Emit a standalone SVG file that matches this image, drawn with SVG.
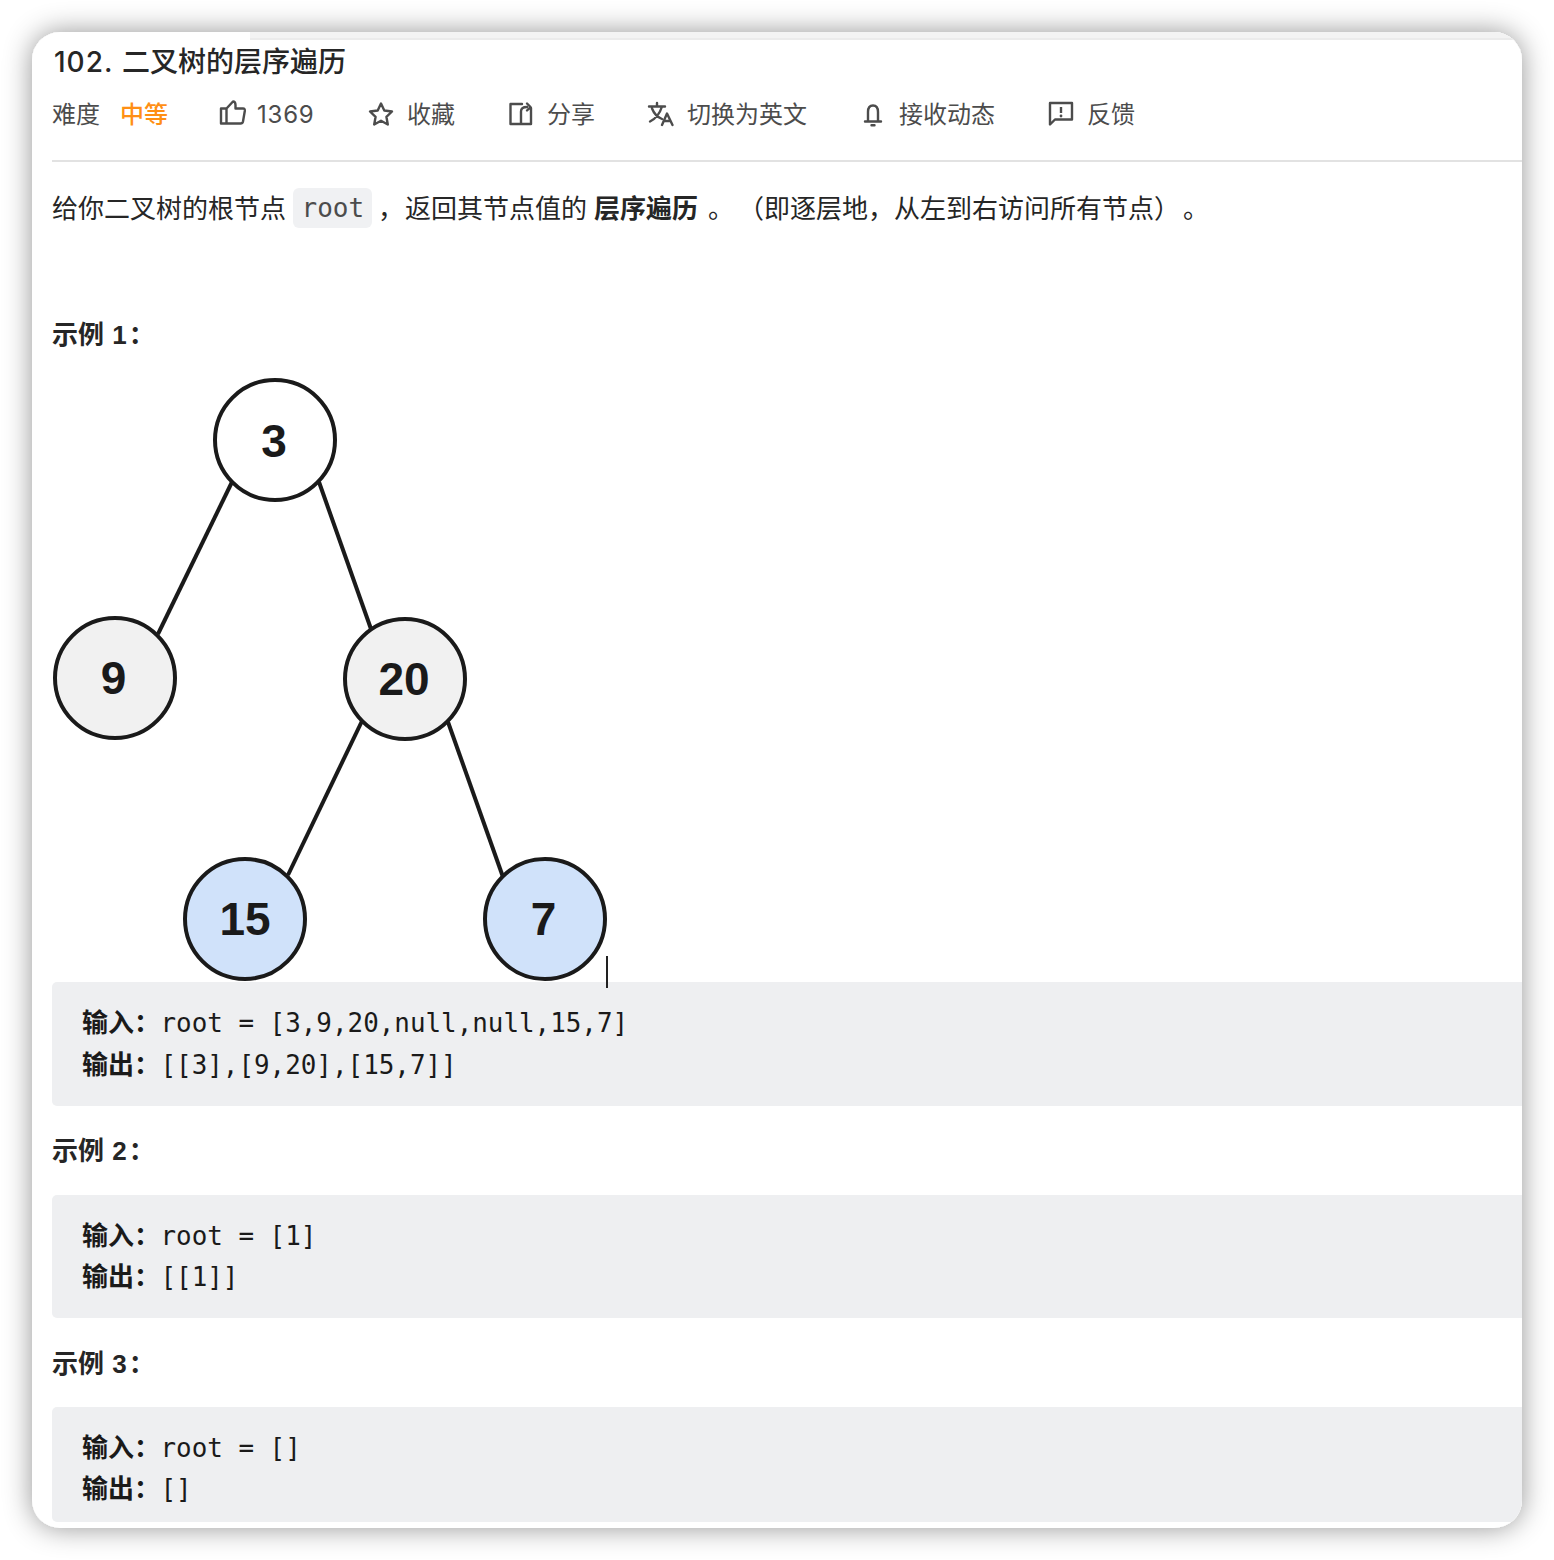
<svg xmlns="http://www.w3.org/2000/svg" width="1554" height="1560" viewBox="0 0 1554 1560">
<style>
text{font-family:"Noto Sans CJK SC","Noto Sans",sans-serif}
.t{font-size:24px;fill:#4c4c4c}
.b{font-size:26px;fill:#262626}
.h{font-size:26px;font-weight:700;fill:#262626;font-family:"Liberation Sans","Noto Sans CJK SC",sans-serif}
.m{font-size:25.900px;fill:#1a1a1a;font-family:"DejaVu Sans Mono",monospace}
.c{font-size:26px;font-weight:700;fill:#1a1a1a}
.ic{fill:none;stroke:#4c4c4c;stroke-width:2.400;stroke-linejoin:round;stroke-linecap:round}
.blk{fill:#eeeff1}
.n{stroke:#1a1a1a;stroke-width:4}
.nt{font-family:"Liberation Sans",sans-serif;font-size:46px;font-weight:700;fill:#1a1a1a;text-anchor:middle}
.e{stroke:#1a1a1a;stroke-width:4;fill:none}
</style>
<defs>
<filter id="sh" x="-10%" y="-10%" width="120%" height="120%"><feDropShadow dx="0" dy="0" stdDeviation="14" flood-color="#000" flood-opacity="0.42"/></filter>
<clipPath id="card"><rect x="32" y="32" width="1490" height="1496" rx="28"/></clipPath>
</defs>
<rect width="1554" height="1560" fill="#fff"/>
<rect x="32" y="32" width="1490" height="1496" rx="28" fill="#fff" filter="url(#sh)"/>
<g clip-path="url(#card)">
<rect x="250" y="32" width="1278" height="6" fill="#f3f3f3"/>
<rect x="250" y="38" width="1278" height="2" fill="#ebebeb"/>
<rect x="52" y="982" width="1480" height="124" rx="5" class="blk"/>
<rect x="52" y="1195" width="1480" height="123" rx="5" class="blk"/>
<rect x="52" y="1407" width="1480" height="115" rx="5" class="blk"/>
</g>
<text x="54" y="72" font-size="28" font-weight="500" letter-spacing="1" fill="#262626" style="font-family:'Inter','Noto Sans CJK SC',sans-serif">102.</text>
<text x="122" y="72" font-size="28" font-weight="500" fill="#262626">二叉树的层序遍历</text>
<text x="52" y="123" class="t">难度</text>
<text x="120" y="123" class="t" style="fill:#ff8f14;font-weight:500">中等</text>
<path class="ic" d="M221 123.500H226.500V108.500H221ZM226.500 108.500L233 101.500C235 101.500 235.500 103 235.500 105V108.500H243C244.500 108.500 245 109.500 244.800 111L243 121.500C242.700 123 242 123.500 240.500 123.500H226.500"/>
<text x="257" y="123" style="font-family:'Inter',sans-serif;font-size:24px;letter-spacing:0.800px;fill:#4c4c4c">1369</text>
<path class="ic" d="M381 103.500L384.300 110.500L392 111.500L386.400 116.800L387.800 124.500L381 120.800L374.200 124.500L375.600 116.800L370 111.500L377.700 110.500Z"/>
<text x="407" y="123" class="t">收藏</text>
<path class="ic" d="M522 104H510.500V124H531V108M521 124V111.500C521 108.500 523 107 527 107M527 103.500L530.500 107L527 110.500"/>
<text x="547" y="123" class="t">分享</text>
<path class="ic" d="M649 106.500H665M657 103V106.500M662 106.500C660 113 656 118.500 650 121.500M652 108.500C654 113.500 658 117.500 662 119"/>
<path class="ic" d="M662 125L667 113.500L672.500 125M664 121H670.500"/>
<text x="687" y="123" class="t">切换为英文</text>
<path class="ic" d="M865 121.500H881M868 121.500V112C868 108 870 105.500 873 105.500C876 105.500 878 108 878 112V121.500M871.500 125.300H874.500"/>
<text x="899" y="123" class="t">接收动态</text>
<path class="ic" d="M1050 103H1072V119.500H1055L1050 124.500Z"/>
<path d="M1061 107V113" stroke="#4c4c4c" stroke-width="2.400"/><circle cx="1061" cy="116" r="1.400" fill="#4c4c4c"/>
<text x="1087" y="123" class="t">反馈</text>
<rect x="52" y="160" width="1470" height="2" fill="#e2e2e2"/>
<text x="52" y="218" class="b">给你二叉树的根节点</text>
<rect x="293" y="188" width="79" height="40" rx="6" fill="#f0f1f3"/>
<text x="301.500" y="217" style="font-family:'DejaVu Sans Mono',monospace;font-size:26px;fill:#4c4c4c">root</text>
<text x="378" y="218" class="b">，</text>
<text x="405" y="218" class="b">返回其节点值的</text>
<text x="594" y="218" class="b" font-weight="700">层序遍历</text>
<text x="708" y="218" class="b">。</text>
<text x="738" y="218" class="b">（即逐层地，从左到右访问所有节点）</text>
<text x="1183" y="218" class="b">。</text>
<text x="52" y="344" class="h">示例 <tspan dx="1">1</tspan><tspan dx="2">：</tspan></text>
<g id="connectors">
<path class="e" d="M232 482L158 634"/>
<path class="e" d="M319 482L371 629"/>
<path class="e" d="M362 721L288 875"/>
<path class="e" d="M448 722L503 877"/>
</g>
<g id="node-3"><circle class="n" cx="275" cy="440" r="60" fill="#fff"/><text class="nt" x="274" y="457">3</text></g>
<g id="node-9"><circle class="n" cx="115" cy="678" r="60" fill="#f1f1f1"/><text class="nt" x="113.500" y="693.500">9</text></g>
<g id="node-20"><circle class="n" cx="405" cy="679" r="60" fill="#f1f1f1"/><text class="nt" x="404" y="695">20</text></g>
<g id="node-15"><circle class="n" cx="245" cy="919" r="60" fill="#d0e2fa"/><text class="nt" x="245" y="935">15</text></g>
<g id="node-7"><circle class="n" cx="545" cy="919" r="60" fill="#d0e2fa"/><text class="nt" x="543.500" y="935">7</text></g>
<rect x="606" y="956" width="2" height="32" fill="#222"/>
<text x="82" y="1032" class="c">输入：</text><text x="160.500" y="1032" class="m">root = [3,9,20,null,null,15,7]</text>
<text x="82" y="1074" class="c">输出：</text><text x="160.500" y="1074" class="m">[[3],[9,20],[15,7]]</text>
<text x="52" y="1160" class="h">示例 <tspan dx="1">2</tspan><tspan dx="2">：</tspan></text>
<text x="82" y="1245" class="c">输入：</text><text x="160.500" y="1245" class="m">root = [1]</text>
<text x="82" y="1286" class="c">输出：</text><text x="160.500" y="1286" class="m">[[1]]</text>
<text x="52" y="1373" class="h">示例 <tspan dx="1">3</tspan><tspan dx="2">：</tspan></text>
<text x="82" y="1457" class="c">输入：</text><text x="160.500" y="1457" class="m">root = []</text>
<text x="82" y="1498" class="c">输出：</text><text x="160.500" y="1498" class="m">[]</text>
</svg>
